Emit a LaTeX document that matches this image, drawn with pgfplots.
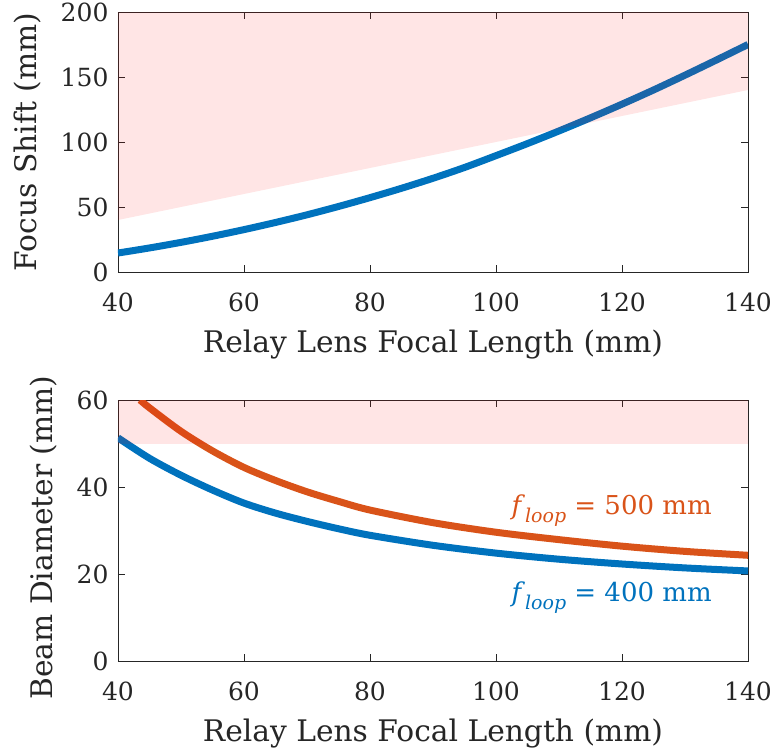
\documentclass[border=0pt]{standalone}
\usepackage{pgfplots}
\pgfplotsset{compat=1.18}
\usepackage{fontspec}
\setmainfont{DejaVu Serif}
\definecolor{mblue}{RGB}{0,114,189}
\definecolor{morange}{RGB}{217,83,25}
\definecolor{axgray}{RGB}{38,38,38}
\newcommand{\floop}{\textit{f}\raisebox{-0.28em}{\fontsize{19}{22}\selectfont\textit{loop}}}
\begin{document}
\begin{tikzpicture}
\path[use as bounding box] (-118pt,-478pt) rectangle (654pt,272pt);
\pgfplotsset{
  every axis/.append style={
    scale only axis, width=630pt, height=260pt,
    xmin=40, xmax=140, xtick={40,60,...,140},
    axis line style={axgray, line width=0.8pt},
    tick style={axgray, line width=0.8pt},
    major tick length=7pt,
    tick align=inside,
    ticklabel style={font=\fontsize{25}{30}\selectfont, text=axgray},
    /pgf/number format/assume math mode=true,
    label style={font=\fontsize{29.7}{34}\selectfont, text=axgray},
    xlabel style={at={(axis description cs:0.5,-0.3077)}, anchor=base},
    xticklabel style={yshift=-17pt},
    yticklabel style={xshift=-6pt},
  }
}
\begin{axis}[at={(0pt,0pt)}, anchor=south west,
  ymin=0, ymax=200, ytick={0,50,...,200},
  xlabel={Relay Lens Focal Length (mm)},
  ylabel={Focus Shift (mm)},
  ylabel style={at={(axis description cs:-0.1429,0.5)}, anchor=center}]
\addplot[mblue, line width=7pt, smooth] coordinates {
(40,14.6) (45,18.5) (50,22.8) (55,27.5) (60,32.6) (65,38.1) (70,44.0) (75,50.4)
(80,57.2) (85,64.4) (90,72.1) (95,80.4) (100,89.5) (105,98.8) (110,108.5)
(115,118.6) (120,129.1) (125,140.0) (130,151.4) (135,163.1) (140,175.0)};
\addplot[draw=none, fill=red, fill opacity=0.1] coordinates {(40,40) (140,140) (140,200) (40,200)} -- cycle;
\end{axis}
\begin{axis}[at={(0pt,-128pt)}, anchor=north west, height=261pt,
  ymin=0, ymax=60, ytick={0,20,40,60},
  xlabel={Relay Lens Focal Length (mm)},
  ylabel={Beam Diameter (mm)},
  ylabel style={at={(axis description cs:-0.1175,0.473)}, anchor=center}]
\addplot[mblue, line width=7pt, smooth] coordinates {
(40,51.3) (45,46.6) (50,42.7) (55,39.3) (60,36.3) (65,34.0) (70,32.1) (75,30.4)
(80,28.9) (90,26.6) (100,24.8) (110,23.4) (120,22.3) (130,21.4) (140,20.7)};
\addplot[morange, line width=7pt, smooth] coordinates {
(43.5,60) (45,58.2) (50,52.8) (55,48.3) (60,44.5) (65,41.5) (70,38.9) (75,36.7)
(80,34.7) (90,31.8) (100,29.6) (110,27.9) (120,26.4) (130,25.2) (140,24.3)};
\addplot[draw=none, fill=red, fill opacity=0.1] coordinates {(40,50) (140,50) (140,60) (40,60)} -- cycle;
\node[anchor=base east, text=morange, font=\fontsize{26}{30}\selectfont] at (axis cs:134.8,33.6) {\floop{} = 500 mm};
\node[anchor=base east, text=mblue, font=\fontsize{26}{30}\selectfont] at (axis cs:134.8,13.6) {\floop{} = 400 mm};
\end{axis}
\end{tikzpicture}
\end{document}
